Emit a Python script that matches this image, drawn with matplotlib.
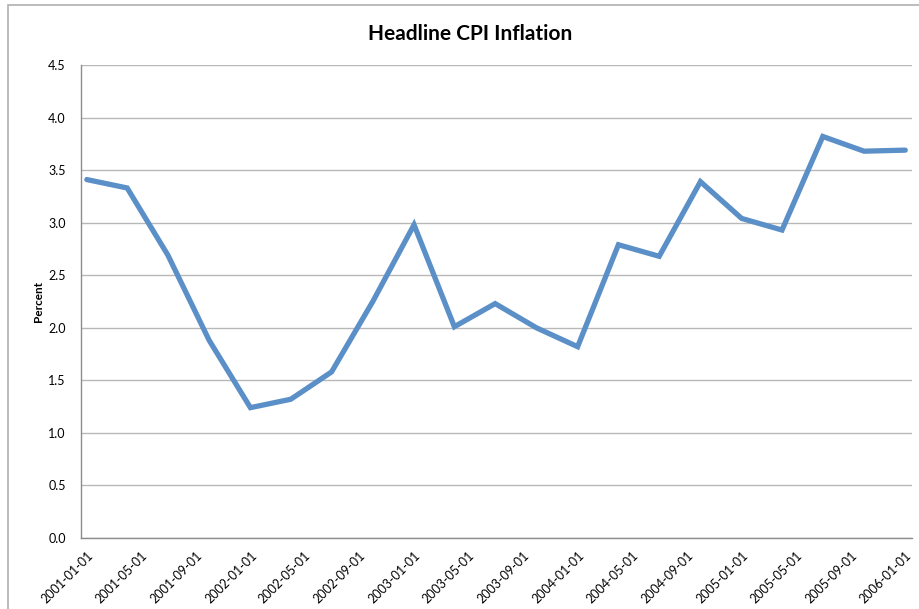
import matplotlib
matplotlib.use("Agg")
import matplotlib.pyplot as plt
import matplotlib.dates as mdates
from matplotlib.patches import Rectangle
import numpy as np
import datetime as dt

# quarterly headline CPI inflation, percent
dates = [dt.date(2001 + (3 * i) // 12, (3 * i) % 12 + 1, 1) for i in range(21)]
cpi = [3.41, 3.33, 2.69, 1.88, 1.24, 1.32, 1.58, 2.25, 2.98, 2.01, 2.23,
       2.00, 1.82, 2.79, 2.68, 3.39, 3.04, 2.93, 3.82, 3.68, 3.69]

tick_dates = [dt.date(2001 + (4 * i) // 12, (4 * i) % 12 + 1, 1) for i in range(16)]
tick_labels = [d.strftime("%Y-%m-%d") for d in tick_dates]
yticks = [0.0, 0.5, 1.0, 1.5, 2.0, 2.5, 3.0, 3.5, 4.0, 4.5]

plt.rcParams['font.family'] = ['Lato', 'DejaVu Sans']

W, H = 920, 609
fig = plt.figure(figsize=(W / 100, H / 100), dpi=100)
# chart area border (only top/left edges visible)
fig.patches.append(Rectangle((8 / W, -0.1), 1.2, (H - 5) / H + 0.1,
                             transform=fig.transFigure, fill=False,
                             edgecolor='#b0b0b0', linewidth=1.2))

ax = fig.add_axes([81 / W, 1 - 538 / H, (912 - 81) / W, (538 - 65) / H])
ax.plot(mdates.date2num(dates), cpi, color='#5b8fc7', linewidth=3.8,
        solid_joinstyle='miter', solid_capstyle='round')

ax.set_ylim(0, 4.5)
ax.set_yticks(yticks)
ax.set_yticklabels(["%.1f" % v for v in yticks], fontsize=9)
ax.yaxis.grid(True, color='#b8b8b8', linewidth=1.0)
ax.set_axisbelow(True)

x0 = mdates.date2num(dt.date(2000, 12, 19))
x1 = mdates.date2num(dt.date(2006, 1, 16))
ax.set_xlim(x0, x1)
ax.set_xticks(mdates.date2num(tick_dates))
ax.set_xticklabels(tick_labels, rotation=45, ha='right', va='top',
                   rotation_mode='anchor', fontsize=9)
ax.tick_params(axis='y', length=0, pad=11)
ax.tick_params(axis='x', length=0, pad=8)

for s in ['top', 'right']:
    ax.spines[s].set_visible(False)
for s in ['left', 'bottom']:
    ax.spines[s].set_color('#8c8c8c')
    ax.spines[s].set_linewidth(1.0)

ax.set_ylabel("Percent", fontsize=8.5, fontweight='bold')
ax.yaxis.set_label_coords(-37 / (912 - 81), 0.5)
fig.text(470 / W, 1 - 34 / H, "Headline CPI Inflation", ha='center',
         va='center', fontsize=15, fontweight='bold')

fig.savefig("out.png", dpi=100, facecolor='white')
